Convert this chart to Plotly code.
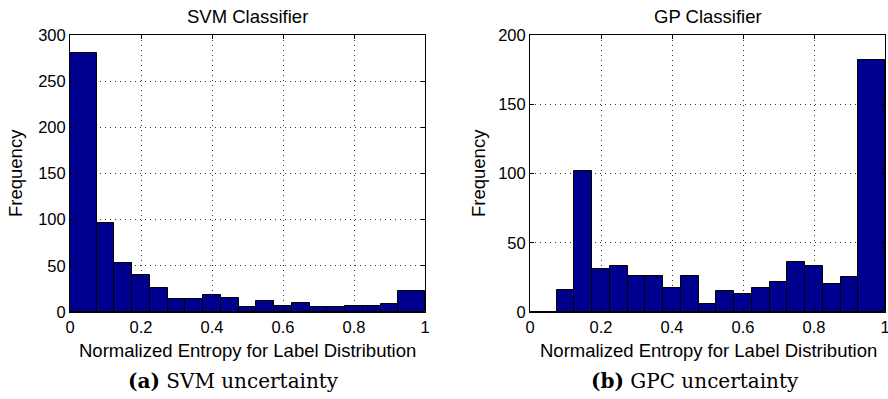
import plotly.graph_objects as go

# ---- data ----
bin_edges = [0.0, 0.075, 0.125, 0.175, 0.225, 0.275, 0.325, 0.375, 0.425, 0.475,
             0.525, 0.575, 0.625, 0.675, 0.725, 0.775, 0.825, 0.875, 0.925, 1.0]
svm_counts = [281, 96, 53, 40, 26, 14, 14, 18, 15, 5, 12, 7, 10, 5, 5, 7, 6, 9, 23]
gpc_counts = [0, 16, 102, 31, 33, 26, 26, 17, 26, 6, 15, 13, 17, 22, 36, 33, 20, 25, 182]
x_ticks = [0, 0.2, 0.4, 0.6, 0.8, 1]
x_tick_labels = ["0", "0.2", "0.4", "0.6", "0.8", "1"]
svm_y_ticks = [0, 50, 100, 150, 200, 250, 300]
gpc_y_ticks = [0, 50, 100, 150, 200]
titles = ["SVM Classifier", "GP Classifier"]
captions = ["<b>(a)</b> SVM uncertainty", "<b>(b)</b> GPC uncertainty"]
x_title = "Normalized Entropy for Label Distribution"
y_title = "Frequency"

centers = [(a + b) / 2 for a, b in zip(bin_edges[:-1], bin_edges[1:])]
widths = [b - a for a, b in zip(bin_edges[:-1], bin_edges[1:])]

W, H = 888, 399


def fx(px):
    return px / W


def fy(py):
    return 1 - py / H


BAR = "#00008F"
SANS = "Liberation Sans, Arial, sans-serif"
SERIF = "DejaVu Serif, Liberation Serif, serif"
TICK = 16.5
LAB = 18.5

fig = go.Figure()
fig.add_trace(go.Bar(x=centers, y=svm_counts, width=widths, xaxis="x", yaxis="y",
                     marker=dict(color=BAR, line=dict(color="black", width=1)),
                     showlegend=False))
fig.add_trace(go.Bar(x=centers, y=gpc_counts, width=widths, xaxis="x2", yaxis="y2",
                     marker=dict(color=BAR, line=dict(color="black", width=1)),
                     showlegend=False))

ydom = [fy(312), fy(35)]
left_dom = [fx(70), fx(425)]
right_dom = [fx(530), fx(885)]

common_x = dict(range=[0, 1], tickvals=x_ticks, ticktext=x_tick_labels,
                showline=True, linecolor="black", linewidth=1, mirror="ticks",
                ticks="inside", ticklen=4, tickcolor="black", automargin=False,
                ticklabeloverflow="allow",
                showgrid=True, gridcolor="#333333", griddash="1px,4px", gridwidth=1,
                zeroline=False, tickfont=dict(family=SANS, size=TICK, color="black"))
common_y = dict(showline=True, linecolor="black", linewidth=1, mirror="ticks",
                ticks="inside", ticklen=4, tickcolor="black", automargin=False,
                showgrid=True, gridcolor="#333333", griddash="1px,4px", gridwidth=1,
                zeroline=False, tickfont=dict(family=SANS, size=TICK, color="black"))

fig.update_layout(
    width=W, height=H,
    margin=dict(l=0, r=0, t=0, b=0),
    paper_bgcolor="white", plot_bgcolor="white",
    bargap=0,
    xaxis=dict(domain=left_dom, anchor="y", **common_x),
    yaxis=dict(domain=ydom, anchor="x", range=[0, 300], tickvals=svm_y_ticks, **common_y),
    xaxis2=dict(domain=right_dom, anchor="y2", **common_x),
    yaxis2=dict(domain=ydom, anchor="x2", range=[0, 200], tickvals=gpc_y_ticks, **common_y),
)

annotations = []
panels = [
    dict(dom=left_dom, title=titles[0], cap=captions[0], capx=234, xtx=247, ytx=16),
    dict(dom=right_dom, title=titles[1], cap=captions[1], capx=695, xtx=708, ytx=479),
]
for p in panels:
    mid = (p["dom"][0] + p["dom"][1]) / 2
    annotations.append(dict(text=p["title"], x=mid, y=fy(17), xref="paper", yref="paper",
                            xanchor="center", yanchor="middle", showarrow=False,
                            font=dict(family=SANS, size=LAB, color="black")))
    annotations.append(dict(text=x_title, x=fx(p["xtx"]), y=fy(350), xref="paper", yref="paper",
                            xanchor="center", yanchor="middle", showarrow=False,
                            font=dict(family=SANS, size=LAB, color="black")))
    annotations.append(dict(text=y_title, x=fx(p["ytx"]), y=fy(173), xref="paper", yref="paper",
                            xanchor="center", yanchor="middle", showarrow=False, textangle=-90,
                            font=dict(family=SANS, size=LAB, color="black")))
    annotations.append(dict(text=p["cap"], x=fx(p["capx"]), y=fy(381), xref="paper", yref="paper",
                            xanchor="center", yanchor="middle", showarrow=False,
                            font=dict(family=SERIF, size=20, color="black")))
fig.update_layout(annotations=annotations)

# remove the browser's default 8px body margin so the figure fills the window
fig.write_html("out.html",
               config={"displayModeBar": False},
               post_script="document.body.style.margin='0';document.body.style.overflow='hidden';")
